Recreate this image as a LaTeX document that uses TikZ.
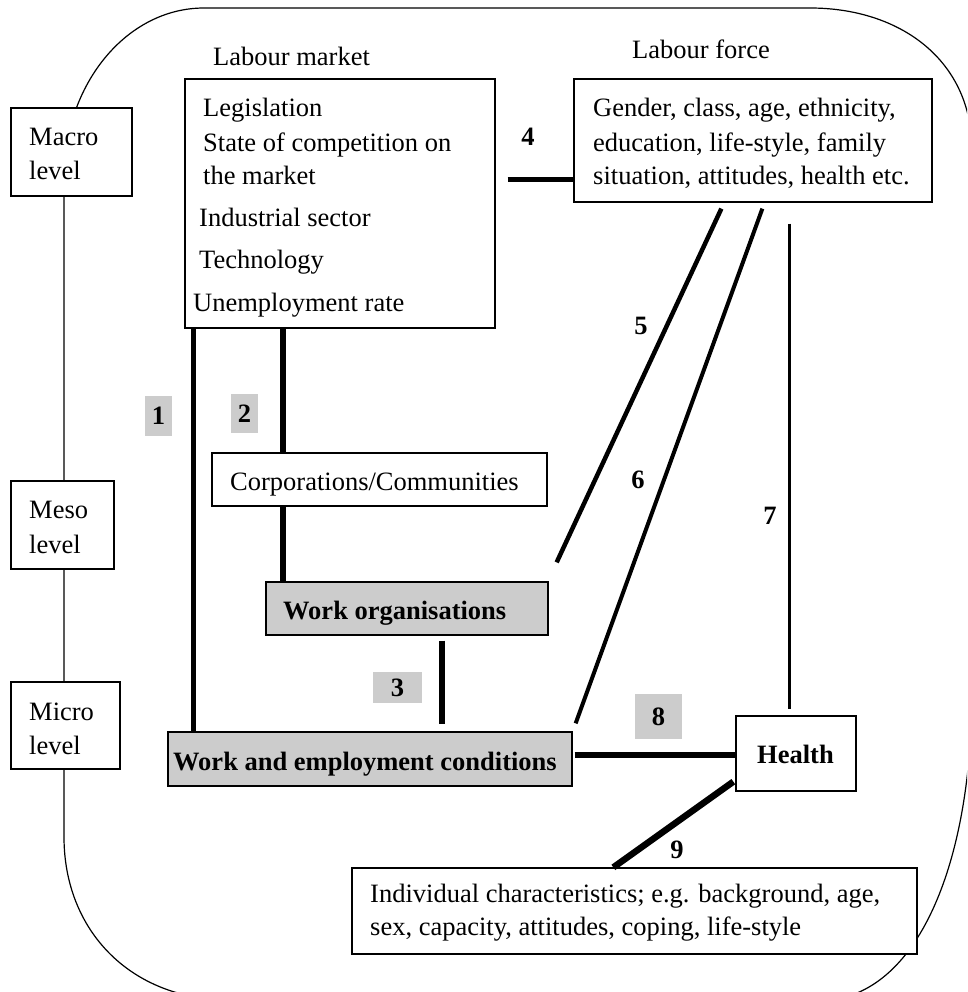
\documentclass[tikz,border=0pt]{standalone}
\usepackage{fontspec}
\setmainfont{Liberation Serif}
\usetikzlibrary{calc}
\definecolor{boxgray}{RGB}{204,204,204}
\begin{document}
\fontsize{26.5}{34}\selectfont
\begin{tikzpicture}[x=1pt,y=-1pt,
  box/.style={draw, line width=1.3pt, fill=white, inner sep=0pt},
  graybox/.style={box, fill=boxgray},
  tagbox/.style={fill=boxgray, inner sep=0pt, font=\bfseries},
  num/.style={inner sep=0pt, font=\bfseries},
  txt/.style={inner sep=0pt, anchor=base west},
  btxt/.style={txt, font=\bfseries},
  outer/.style={line width=1.2pt},
  conn/.style={line width=#1}
]
\useasboundingbox (0,0) rectangle (967,992);
\clip (0,0) rectangle (967,992);
% outer frame (its right and bottom edges lie outside the picture)
\draw[outer] (972,150) .. controls (972,60) and (900,8) .. (810,8)
  -- (204,8) .. controls (126.7,8) and (64,84.1) .. (64,178)
  -- (64,837) .. controls (64,930) and (130,1000) .. (230,1000);
\draw[outer] (972,690) .. controls (972,860) and (920,990) .. (830,1000);

% level boxes
\node[box, minimum width=121, minimum height=88] (macro) at (71.5,152) {};
\node[txt] (macroa) at (29,146) {Macro};
\node[txt] (macrob) at (29,180) {level};
\node[box, minimum width=103, minimum height=88] (meso) at (62.5,525) {};
\node[txt] (mesoa) at (29,518) {Meso};
\node[txt] (mesob) at (29,553) {level};
\node[box, minimum width=109, minimum height=87] (micro) at (65.5,725.5) {};
\node[txt] (microa) at (29,720) {Micro};
\node[txt] (microb) at (29,754) {level};

% labour market
\node[txt] (lmt) at (213,66) {Labour market};
\node[box, minimum width=310, minimum height=249] (lm) at (340,203.5) {};
\node[txt] (lm1) at (203,117) {Legislation};
\node[txt] (lm2) at (203,152) {State of competition on};
\node[txt] (lm3) at (203,185) {the market};
\node[txt] (lm4) at (199,226) {Industrial sector};
\node[txt] (lm5) at (199,268) {Technology};
\node[txt] (lm6) at (193,311) {Unemployment rate};

% labour force
\node[txt] (lft) at (632,59) {Labour force};
\node[box, minimum width=358, minimum height=123] (lf) at (753,140.5) {};
\node[txt] (lf1) at (593,117) {Gender, class, age, ethnicity,};
\node[txt] (lf2) at (593,152) {education, life-style, family};
\node[txt] (lf3) at (593,185) {situation, attitudes, health etc.};

% middle boxes
\node[box, minimum width=335, minimum height=53] (corp) at (379.5,479.5) {};
\node[txt] (corpt) at (230,490) {Corporations/Communities};
\node[graybox, minimum width=282, minimum height=53] (wo) at (407,608.5) {};
\node[btxt] (wot) at (283,619) {Work organisations};
\node[graybox, minimum width=404, minimum height=54] (wec) at (370,759) {};
\node[btxt] (wect) at (173,770) {Work and employment conditions};
\node[box, minimum width=120, minimum height=75] (health) at (796,753.5) {};
\node[btxt] (healtht) at (757,763) {Health};
\node[box, minimum width=565, minimum height=86] (ind) at (634.5,911) {};
\node[txt] (ind1) at (370,902) {Individual characteristics; e.g. background, age,};
\node[txt] (ind2) at (370,935) {sex, capacity, attitudes, coping, life-style};

% connectors
\draw[conn=5.5pt] ([xshift=9pt]lm.south west) -- ([xshift=9pt]lm.south west |- wec.north);
\draw[conn=6pt] ([xshift=99pt]lm.south west) -- ([xshift=99pt]lm.south west |- corp.north);
\draw[conn=6pt] ([xshift=72pt]corp.south west) -- ([xshift=72pt]corp.south west |- wo.north);
\draw[conn=6pt, shorten <=5pt, shorten >=7pt] ([xshift=177pt]wo.south west) -- ([xshift=177pt]wo.south west |- wec.north);
\coordinate (c4) at ([xshift=12pt,yshift=-101pt]lm.north east);
\draw[conn=5pt] (c4) -- (c4 -| lf.west);
\draw[conn=4.5pt] ([xshift=148pt,yshift=-6pt]lf.south west) -- ([xshift=8pt,yshift=19pt]wo.north east);
\draw[conn=4pt] ([xshift=189pt,yshift=-6pt]lf.south west) -- ([xshift=3pt,yshift=8pt]wec.north east);
\draw[conn=3.5pt] ([xshift=216pt,yshift=-21pt]lf.south west) -- ([xshift=54pt,yshift=6pt]health.north west);
\coordinate (c8) at ([xshift=2pt,yshift=4pt]wec.east);
\draw[conn=6.5pt] (c8) -- (c8 -| health.west);
\draw[conn=6.5pt] ([xshift=-2pt,yshift=10pt]health.south west) -- ([xshift=262pt]ind.north west);

% labels
\node[tagbox, minimum width=27, minimum height=40] (t1) at (158.5,416) {1};
\node[tagbox, minimum width=27, minimum height=39] (t2) at (244.5,413.5) {2};
\node[tagbox, minimum width=49, minimum height=31] (t3) at (397.5,687.5) {3};
\node[tagbox, minimum width=47, minimum height=45] (t8) at (658.5,716.5) {8};
\node[num] (n4) at (528,137) {4};
\node[num] (n5) at (641,326) {5};
\node[num] (n6) at (638,480) {6};
\node[num] (n7) at (770,516) {7};
\node[num] (n9) at (677,850) {9};
\end{tikzpicture}
\end{document}
